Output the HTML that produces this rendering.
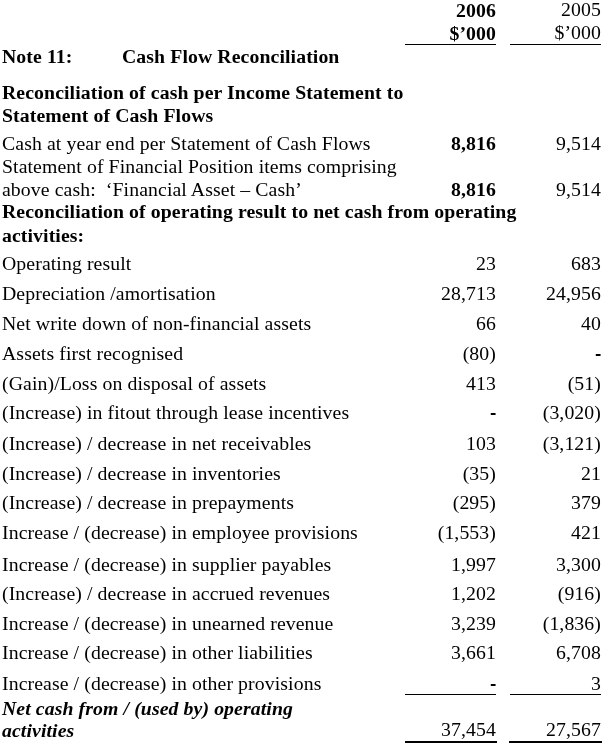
<!DOCTYPE html>
<html><head><meta charset="utf-8"><title>Note 11</title>
<style>
html,body{margin:0;padding:0;background:#fff;}
body{width:609px;height:747px;position:relative;overflow:hidden;font-family:"Liberation Serif",serif;font-size:19.75px;letter-spacing:0.1px;color:#000;}
.t{position:absolute;white-space:nowrap;line-height:20px;height:20px;}
.l{left:2px;}
.r{text-align:right;}
.b{font-weight:bold;}
.bi{font-weight:bold;font-style:italic;}
.ln{position:absolute;height:1px;background:#000;}
.hy{position:absolute;width:6px;height:2px;background:linear-gradient(to right,#c8c8c8 0,#c8c8c8 1px,#000 1px,#000 5px,#707070 5px,#707070 6px);}
#w{position:absolute;left:0;top:0;width:609px;height:747px;will-change:transform;}
</style></head><body><div id="w">

<div class="t r b" style="top:0px;right:113px">2006</div>
<div class="t r" style="top:-1px;right:8px">2005</div>
<div class="t r b" style="top:23px;right:113px">$’000</div>
<div class="t r" style="top:22px;right:8px">$’000</div>
<div class="t l b" style="top:46px">Note 11:</div>
<div class="t b" style="top:46px;left:122px">Cash Flow Reconciliation</div>
<div class="t l b" style="top:82px">Reconciliation of cash per Income Statement to</div>
<div class="t l b" style="top:105px">Statement of Cash Flows</div>
<div class="t l " style="top:133px">Cash at year end per Statement of Cash Flows</div>
<div class="t r b" style="top:133px;right:113px">8,816</div>
<div class="t r" style="top:133px;right:8px">9,514</div>
<div class="t l " style="top:156px">Statement of Financial Position items comprising</div>
<div class="t l " style="top:179px">above cash:&nbsp; ‘Financial Asset – Cash’</div>
<div class="t r b" style="top:179px;right:113px">8,816</div>
<div class="t r" style="top:179px;right:8px">9,514</div>
<div class="t l b" style="top:201px">Reconciliation of operating result to net cash from operating</div>
<div class="t l b" style="top:225px">activities:</div>
<div class="t l " style="top:253px">Operating result</div>
<div class="t r " style="top:253px;right:113px">23</div>
<div class="t r" style="top:253px;right:8px">683</div>
<div class="t l " style="top:283px">Depreciation /amortisation</div>
<div class="t r " style="top:283px;right:113px">28,713</div>
<div class="t r" style="top:283px;right:8px">24,956</div>
<div class="t l " style="top:313px">Net write down of non-financial assets</div>
<div class="t r " style="top:313px;right:113px">66</div>
<div class="t r" style="top:313px;right:8px">40</div>
<div class="t l " style="top:343px">Assets first recognised</div>
<div class="t r " style="top:343px;right:113px">(80)</div>
<div class="hy" style="left:595px;top:354px"></div>
<div class="t l " style="top:373px">(Gain)/Loss on disposal of assets</div>
<div class="t r " style="top:373px;right:113px">413</div>
<div class="t r" style="top:373px;right:8px">(51)</div>
<div class="t l " style="top:402px">(Increase) in fitout through lease incentives</div>
<div class="hy" style="left:490px;top:413px"></div>
<div class="t r" style="top:402px;right:8px">(3,020)</div>
<div class="t l " style="top:433px">(Increase) / decrease in net receivables</div>
<div class="t r " style="top:433px;right:113px">103</div>
<div class="t r" style="top:433px;right:8px">(3,121)</div>
<div class="t l " style="top:463px">(Increase) / decrease in inventories</div>
<div class="t r " style="top:463px;right:113px">(35)</div>
<div class="t r" style="top:463px;right:8px">21</div>
<div class="t l " style="top:492px">(Increase) / decrease in prepayments</div>
<div class="t r " style="top:492px;right:113px">(295)</div>
<div class="t r" style="top:492px;right:8px">379</div>
<div class="t l " style="top:522px">Increase / (decrease) in employee provisions</div>
<div class="t r " style="top:522px;right:113px">(1,553)</div>
<div class="t r" style="top:522px;right:8px">421</div>
<div class="t l " style="top:554px">Increase / (decrease) in supplier payables</div>
<div class="t r " style="top:554px;right:113px">1,997</div>
<div class="t r" style="top:554px;right:8px">3,300</div>
<div class="t l " style="top:583px">(Increase) / decrease in accrued revenues</div>
<div class="t r " style="top:583px;right:113px">1,202</div>
<div class="t r" style="top:583px;right:8px">(916)</div>
<div class="t l " style="top:613px">Increase / (decrease) in unearned revenue</div>
<div class="t r " style="top:613px;right:113px">3,239</div>
<div class="t r" style="top:613px;right:8px">(1,836)</div>
<div class="t l " style="top:642px">Increase / (decrease) in other liabilities</div>
<div class="t r " style="top:642px;right:113px">3,661</div>
<div class="t r" style="top:642px;right:8px">6,708</div>
<div class="t l " style="top:673px">Increase / (decrease) in other provisions</div>
<div class="hy" style="left:490px;top:684px"></div>
<div class="t r" style="top:673px;right:8px">3</div>
<div class="t l bi" style="top:698px">Net cash from / (used by) operating</div>
<div class="t l bi" style="top:720px">activities</div>
<div class="t r " style="top:719px;right:113px">37,454</div>
<div class="t r" style="top:719px;right:8px">27,567</div>
<div class="ln" style="left:405px;width:91px;top:44px;height:1px"></div>
<div class="ln" style="left:510px;width:91px;top:44px;height:1px"></div>
<div class="ln" style="left:405px;width:91px;top:694px;height:1px"></div>
<div class="ln" style="left:510px;width:91px;top:694px;height:1px"></div>
<div class="ln" style="left:405px;width:92px;top:741px;height:2px"></div>
<div class="ln" style="left:509px;width:93px;top:741px;height:2px"></div>
</div></body></html>
